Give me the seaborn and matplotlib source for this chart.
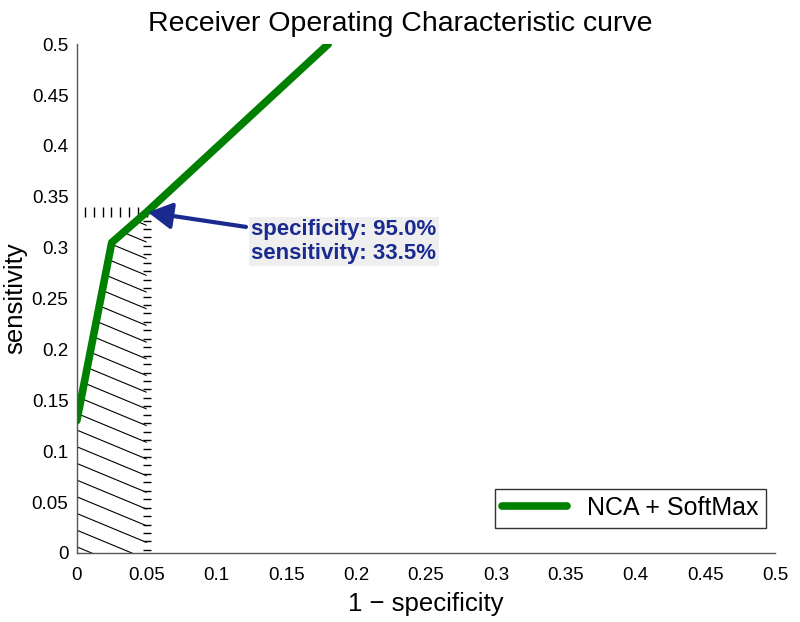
import numpy as np
import pandas as pd
import seaborn as sns
import matplotlib
matplotlib.use("Agg")
from matplotlib import pyplot as plt
from matplotlib.collections import LineCollection

# ROC curve points (1 - specificity, sensitivity)
fpr = [0.0, 0.025, 0.05, 0.18]
tpr = [0.13, 0.305, 0.335, 0.5]
op_fpr = 0.05
op_tpr = 0.335
series_name = "NCA + SoftMax"
xticks = [0, 0.05, 0.1, 0.15, 0.2, 0.25, 0.3, 0.35, 0.4, 0.45, 0.5]
yticks = [0, 0.05, 0.1, 0.15, 0.2, 0.25, 0.3, 0.35, 0.4, 0.45, 0.5]

sns.set_style("white")
plt.rcParams['font.family'] = ['Liberation Sans', 'DejaVu Sans']
plt.rcParams['text.color'] = 'black'
plt.rcParams['axes.labelcolor'] = 'black'

df = pd.DataFrame({"fpr": fpr, "tpr": tpr})

fig = plt.figure(figsize=(8, 6.22), dpi=100)
ax = fig.add_axes([0.096, 0.111, 0.873, 0.818])

green = "#008000"
navy = "#1a2a8f"

# hatched area under the curve up to the operating point
xs = np.array(fpr[:3])
ys = np.array(tpr[:3])
poly = ax.fill_between(xs, 0, ys, facecolor="none", edgecolor="none")
slope = -0.57
step = 0.0164
cs = np.arange(0.0, op_tpr + 0.05, step) + 0.006
segs = [[(-0.01, c - slope * 0.01), (0.06, c + slope * 0.06)] for c in cs]
lc = LineCollection(segs, colors="black", linewidths=0.8)
ax.add_collection(lc)
lc.set_clip_path(poly.get_paths()[0], poly.get_transform())

# dotted guides shown as short tick marks
hx = np.arange(op_fpr, 0.003, -0.0063)
ax.plot(hx, np.full(len(hx), op_tpr), ls="none", marker="|", ms=7, mew=1.0, color="black")
vy = np.arange(op_tpr, -0.001, -0.0083)
ax.plot(np.full(len(vy), op_fpr), vy, ls="none", marker="_", ms=6, mew=1.0, color="black")

sns.lineplot(data=df, x="fpr", y="tpr", sort=False, color=green, linewidth=5.5,
             label=series_name, ax=ax, solid_capstyle="round")

ax.annotate("specificity: %.1f%%\nsensitivity: %.1f%%" % ((1 - op_fpr) * 100, op_tpr * 100),
            xy=(op_fpr, op_tpr), xytext=(0.125, 0.306),
            fontsize=16, fontweight="bold", color=navy, va="center", ha="left",
            linespacing=1.15,
            bbox=dict(boxstyle="square,pad=0.12", fc="#efefef", ec="none"),
            arrowprops=dict(arrowstyle="-|>,head_length=0.9,head_width=0.5", color=navy,
                            lw=3, shrinkA=2, shrinkB=1))

ax.set_xlim(0, 0.5)
ax.set_ylim(0, 0.5)
ax.set_xticks(xticks)
ax.set_yticks(yticks)
ax.set_xticklabels([("%g" % t) for t in xticks])
ax.set_yticklabels([("%g" % t) for t in yticks])
ax.tick_params(direction="in", length=5, width=1, colors="#444444", labelsize=13.5,
               labelcolor="black", pad=6)
ax.tick_params(axis="x", pad=10)
for s in ["top", "right"]:
    ax.spines[s].set_visible(False)
for s in ["left", "bottom"]:
    ax.spines[s].set_color("#555555")
    ax.spines[s].set_linewidth(1)

ax.set_xlabel("1 \u2212 specificity", fontsize=18.5, labelpad=6)
ax.set_ylabel("sensitivity", fontsize=18.5, labelpad=3)
fig.text(0.5, 0.962, "Receiver Operating Characteristic curve", fontsize=20.5,
         ha="center", va="center")

leg = ax.legend(loc="lower right", fontsize=18, frameon=True, fancybox=False,
                handlelength=2.6, borderpad=0.3, bbox_to_anchor=(1.005, 0.025))
leg.get_frame().set_edgecolor("black")
leg.get_frame().set_linewidth(1)

fig.savefig("out.png", dpi=100)
